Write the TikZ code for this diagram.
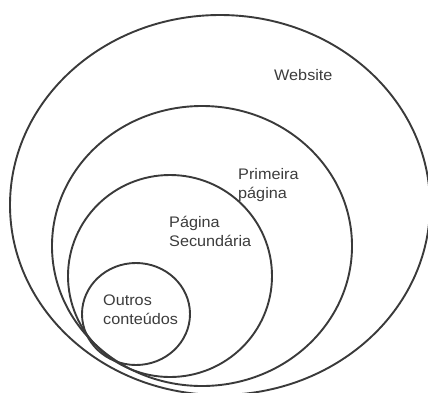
\documentclass[tikz,border=0pt]{standalone}
\usepackage{fontspec}
\setmainfont{Liberation Sans}[FakeStretch=1.06]
\definecolor{linec}{HTML}{3A3A3A}
\definecolor{textc}{HTML}{3C3C3C}
\begin{document}
\begin{tikzpicture}[x=1pt,y=-1pt,
  ring/.style={draw=linec,line width=1.9pt},
  lbl/.style={anchor=base west,inner sep=0pt,align=left,text=textc,font=\fontsize{15.3}{19.5}\selectfont}]
\useasboundingbox (0,0) rectangle (428,392);
\draw[ring] (220,205) ellipse [x radius=210,y radius=190];
\draw[ring] (202,246) ellipse [x radius=150,y radius=140];
\draw[ring] (170,276) ellipse [x radius=102,y radius=101];
\draw[ring] (136,314) ellipse [x radius=54,y radius=51];
\node[lbl] (web) at (274,80) {Website};
\node[lbl] (prim) at (238,198.5) {Primeira\\página};
\node[lbl] (sec) at (169,246.5) {Página\\Secundária};
\node[lbl] (out) at (103,324.5) {Outros\\conteúdos};
\end{tikzpicture}
\end{document}
